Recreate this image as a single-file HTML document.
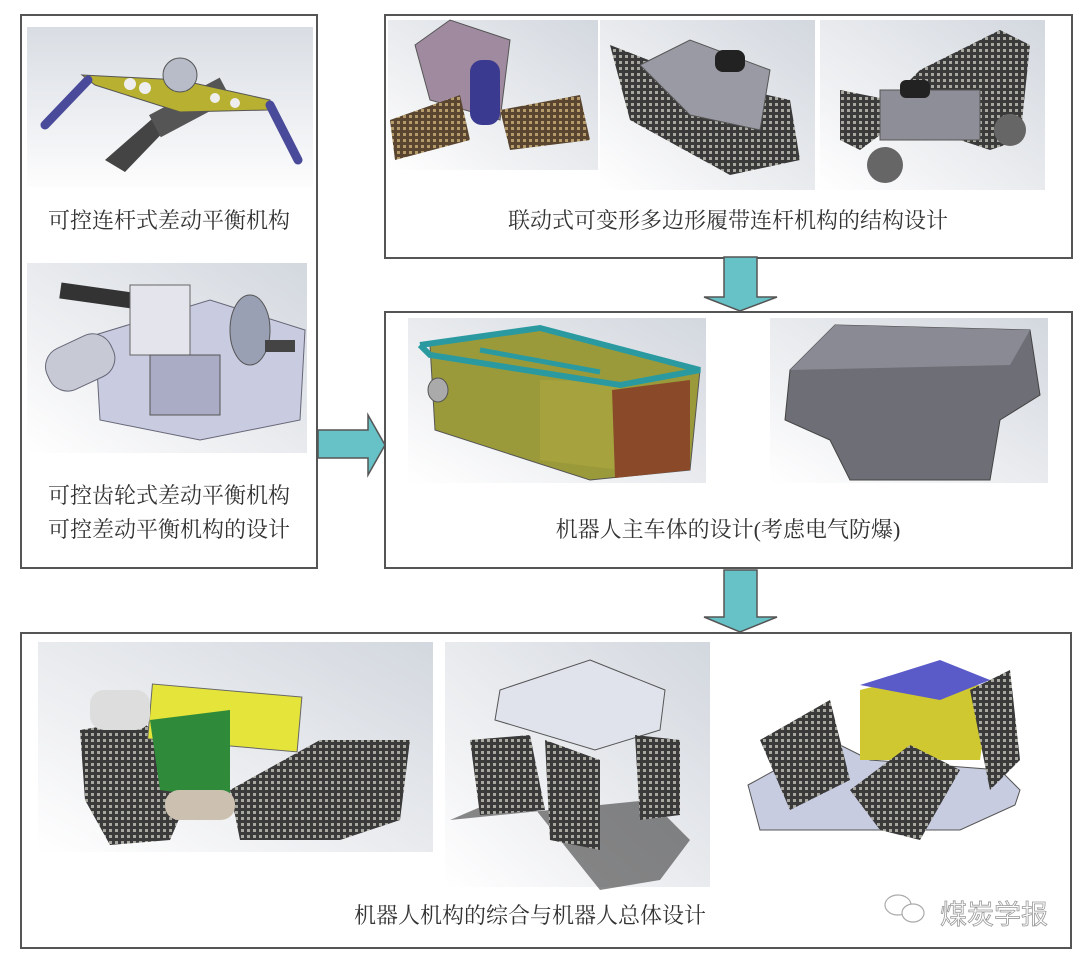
<!DOCTYPE html>
<html><head><meta charset="utf-8"><style>
html,body{margin:0;padding:0;background:#fff;width:1080px;height:962px;overflow:hidden}
svg{display:block}
text{font-family:"Liberation Serif","Noto Serif CJK SC",serif;fill:#333}
</style></head><body>
<svg width="1080" height="962" viewBox="0 0 1080 962" xmlns="http://www.w3.org/2000/svg">
<defs>
<linearGradient id="bg" x1="0" y1="0" x2="0" y2="1"><stop offset="0" stop-color="#d9dde3"/><stop offset="0.6" stop-color="#eef0f3"/><stop offset="1" stop-color="#fdfdfd"/></linearGradient>
<linearGradient id="bg2" x1="1" y1="0" x2="0" y2="1"><stop offset="0" stop-color="#d3d8df"/><stop offset="0.7" stop-color="#f1f2f4"/><stop offset="1" stop-color="#fff"/></linearGradient>
<pattern id="trk" width="6" height="6" patternUnits="userSpaceOnUse"><rect width="6" height="6" fill="#3a3a3a"/><rect x="1" y="1" width="3" height="3" fill="#a8a8a0"/></pattern>
<pattern id="trk2" width="6" height="6" patternUnits="userSpaceOnUse"><rect width="6" height="6" fill="#5a4630"/><rect x="1" y="1" width="3" height="3" fill="#b59a6a"/></pattern>
</defs>
<rect x="21" y="15" width="296" height="553" fill="#fff" stroke="#555" stroke-width="2"/>
<rect x="385" y="15" width="687" height="243" fill="#fff" stroke="#555" stroke-width="2"/>
<rect x="385" y="312" width="687" height="256" fill="#fff" stroke="#555" stroke-width="2"/>
<rect x="21" y="633" width="1050" height="315" fill="#fff" stroke="#555" stroke-width="2"/>

<rect x="27" y="27" width="286" height="160" fill="url(#bg)"/>
<polygon points="105,160 160,112 175,120 125,172" fill="#444"/>
<rect x="150" y="95" width="80" height="25" fill="#555" transform="rotate(-28 190 107)"/>
<polygon points="82,75 180,80 270,100 268,110 180,112 95,85" fill="#b8b030" stroke="#555"/>
<circle cx="180" cy="75" r="17" fill="#b8bcc8" stroke="#555"/>
<circle cx="130" cy="84" r="6" fill="#eee"/><circle cx="145" cy="88" r="6" fill="#eee"/><circle cx="215" cy="98" r="5" fill="#eee"/><circle cx="235" cy="103" r="5" fill="#eee"/>
<line x1="88" y1="80" x2="45" y2="125" stroke="#4a4a9a" stroke-width="9" stroke-linecap="round"/>
<line x1="270" y1="105" x2="298" y2="160" stroke="#4a4a9a" stroke-width="9" stroke-linecap="round"/>
<text x="169" y="228" font-size="22" text-anchor="middle">可控连杆式差动平衡机构</text>

<rect x="27" y="263" width="280" height="190" fill="url(#bg2)"/>
<polygon points="95,335 210,300 305,330 300,420 200,440 100,420" fill="#c9cbe0" stroke="#667"/>
<rect x="45" y="340" width="70" height="45" rx="20" fill="#c7cad4" stroke="#667" transform="rotate(-25 80 362)"/>
<rect x="60" y="288" width="80" height="16" fill="#333" transform="rotate(8 100 296)"/>
<rect x="130" y="285" width="60" height="70" fill="#e4e4ec" stroke="#666"/>
<ellipse cx="250" cy="330" rx="20" ry="35" fill="#9aa0b4" stroke="#555"/>
<rect x="265" y="340" width="30" height="12" fill="#444"/>
<rect x="150" y="355" width="70" height="60" fill="#a9acc4" stroke="#555"/>
<text x="169" y="503" font-size="22" text-anchor="middle">可控齿轮式差动平衡机构</text>
<text x="169" y="537" font-size="22" text-anchor="middle">可控差动平衡机构的设计</text>

<rect x="388" y="20" width="210" height="150" fill="url(#bg2)"/>
<rect x="600" y="20" width="215" height="170" fill="url(#bg2)"/>
<rect x="820" y="20" width="225" height="170" fill="url(#bg2)"/>
<polygon points="415,45 450,20 510,40 500,120 430,100" fill="#a08aa0" stroke="#555"/>
<rect x="470" y="60" width="30" height="65" rx="12" fill="#3a3a90"/>
<polygon points="390,120 460,95 470,140 395,160" fill="url(#trk2)"/>
<polygon points="500,110 580,95 590,140 510,150" fill="url(#trk2)"/>
<polygon points="610,45 700,80 790,100 800,160 730,175 630,120" fill="url(#trk)"/>
<polygon points="640,65 690,40 770,70 760,130 690,115" fill="#9a9aa4" stroke="#555"/>
<rect x="715" y="50" width="30" height="22" rx="8" fill="#222"/>
<polygon points="840,90 890,100 920,70 1000,30 1030,45 1020,140 990,150 900,120 860,150 840,140" fill="url(#trk)"/>
<rect x="880" y="90" width="100" height="50" fill="#8e8e98" stroke="#555"/>
<rect x="900" y="80" width="30" height="18" rx="6" fill="#222"/>
<circle cx="885" cy="165" r="18" fill="#666"/><circle cx="1010" cy="130" r="16" fill="#666"/>
<text x="728" y="228" font-size="22" text-anchor="middle">联动式可变形多边形履带连杆机构的结构设计</text>

<g fill="#66c2c6" stroke="#555" stroke-width="1.5">
<polygon points="724,257 757,257 757,297 777,297 740,311 704,297 724,297"/>
<polygon points="724,570 757,570 757,617 777,617 740,632 704,617 724,617"/>
<polygon points="318,430 368,430 368,415 385,445 368,475 368,458 318,458"/>
</g>

<rect x="408" y="318" width="298" height="165" fill="url(#bg2)"/>
<rect x="770" y="318" width="278" height="165" fill="url(#bg2)"/>
<polygon points="430,345 540,330 700,370 690,470 590,480 435,430" fill="#9b9a3a" stroke="#555"/>
<polygon points="540,380 620,382 620,470 540,460" fill="#a6a33e"/>
<polygon points="612,390 690,380 690,470 615,478" fill="#8a4a2a"/>
<polyline points="420,345 540,328 700,370 620,385 430,355 420,345" fill="none" stroke="#2a9aa0" stroke-width="6"/>
<line x1="480" y1="350" x2="600" y2="372" stroke="#2a9aa0" stroke-width="5"/>
<ellipse cx="438" cy="390" rx="10" ry="12" fill="#aaa" stroke="#555"/>
<polygon points="790,370 835,325 1030,330 1040,395 1000,420 990,480 850,480 830,440 785,420" fill="#6e6e76" stroke="#444"/>
<polygon points="790,370 835,325 1030,330 1010,365" fill="#8a8a94"/>
<text x="728" y="537" font-size="22" text-anchor="middle">机器人主车体的设计(考虑电气防爆)</text>

<rect x="38" y="642" width="395" height="210" fill="url(#bg2)"/>
<rect x="445" y="642" width="265" height="245" fill="url(#bg2)"/>
<polygon points="80,730 140,720 200,770 170,840 110,845 85,800" fill="url(#trk)"/>
<polygon points="230,790 320,740 410,740 400,820 340,840 240,840" fill="url(#trk)"/>
<rect x="150" y="690" width="150" height="55" fill="#e4e43a" stroke="#666" transform="rotate(5 220 715)"/>
<polygon points="150,720 230,710 230,800 160,790" fill="#2f8a3a"/>
<rect x="90" y="690" width="60" height="40" rx="14" fill="#ddd"/>
<rect x="165" y="790" width="70" height="30" rx="14" fill="#ccc0b0"/>
<polygon points="590,660 665,690 660,730 595,750 495,720 500,690" fill="#e0e2ec" stroke="#555"/>
<polygon points="450,820 520,790 600,890 660,880 690,840 650,800" fill="#3a3a3a" opacity="0.6"/>
<polygon points="470,740 530,735 545,810 480,815" fill="url(#trk)"/>
<polygon points="545,740 600,760 600,850 550,840" fill="url(#trk)"/>
<polygon points="635,735 680,740 680,815 640,820" fill="url(#trk)"/>
<polygon points="748,785 830,740 870,760 1000,770 1020,790 1015,805 960,830 760,830" fill="#c8cce0" stroke="#555"/>
<polygon points="860,690 940,670 990,690 980,760 860,760" fill="#d0c830"/>
<polygon points="860,685 940,660 990,680 940,700" fill="#5a5ac8"/>
<polygon points="760,740 830,700 850,780 790,810" fill="url(#trk)"/>
<polygon points="970,690 1010,670 1020,760 990,790" fill="url(#trk)"/>
<polygon points="850,790 910,745 960,770 920,840 880,830" fill="url(#trk)"/>
<text x="530" y="923" font-size="22" text-anchor="middle">机器人机构的综合与机器人总体设计</text>

<g fill="#fff" stroke="#aaa" stroke-width="1.2">
<ellipse cx="898" cy="905" rx="13" ry="10"/>
<ellipse cx="913" cy="913" rx="11" ry="9"/>
</g>
<text x="940" y="924" font-size="27" style="fill:#fff;stroke:#999;stroke-width:0.8;font-family:'Liberation Sans','Noto Sans CJK SC',sans-serif">煤炭学报</text>
</svg>
</body></html>
